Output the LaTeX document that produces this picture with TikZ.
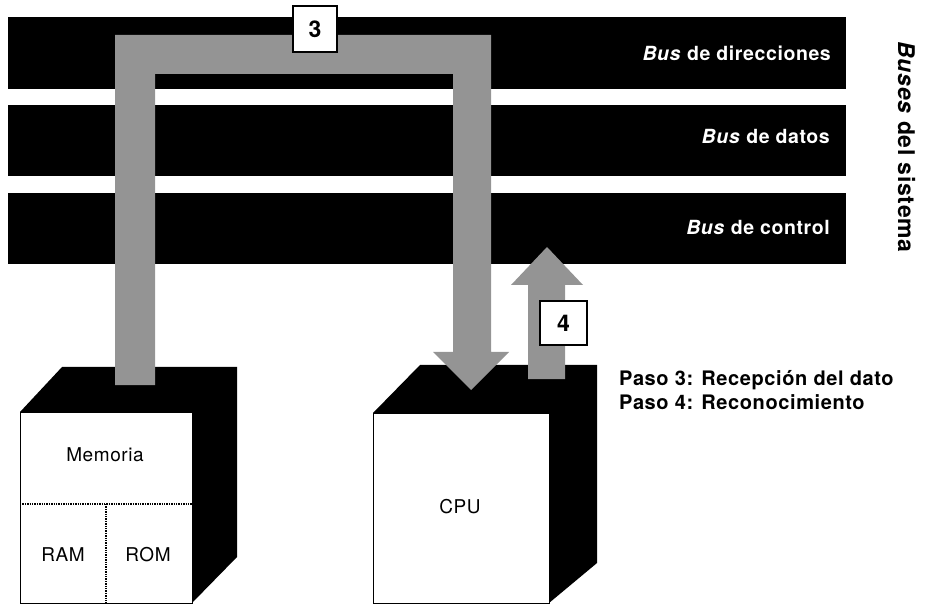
\documentclass[tikz,border=0pt]{standalone}
\usepackage{fontspec}
\setmainfont[LetterSpace=3]{TeX Gyre Heros}
\begin{document}
\begin{tikzpicture}[x=1pt,y=-1pt,
  busbar/.style={fill=black},
  halftone/.style={fill=black!42},
  cubeface/.style={draw=black, line width=1pt, fill=white, inner sep=0pt},
  stepnum/.style={draw=black, line width=1.5pt, fill=white, inner sep=0pt,
    font=\fontsize{23}{23}\selectfont\bfseries},
  buslabel/.style={text=white, anchor=base east, inner sep=0pt,
    font=\fontsize{19.5}{19.5}\selectfont\bfseries},
  boxlabel/.style={font=\fontsize{19}{19}\selectfont},
  legend/.style={anchor=base west, inner sep=0pt, font=\fontsize{20}{20}\selectfont\bfseries},
  divider/.style={densely dotted, line width=1.4pt}]
\useasboundingbox (0,0) rectangle (930,604);

% system buses
\fill[busbar] (8,17) rectangle (846,89);
\fill[busbar] (8,105) rectangle (846,176);
\fill[busbar] (8,193) rectangle (846,264);
\node[buslabel] (ldir) at (831,61) {\textit{Bus} de direcciones};
\node[buslabel] (ldat) at (830,144) {\textit{Bus} de datos};
\node[buslabel] (lctl) at (830,235) {\textit{Bus} de control};

% title
\node[rotate=-90, anchor=base, inner sep=0pt, font=\fontsize{23}{23}\selectfont\bfseries] (title) at (898,147) {\textit{Buses} del sistema};

% memory cube
\fill[black] (20,412) -- (62,367) -- (237,367) -- (237,557) -- (192,603) -- (192,412) -- cycle;
\node[cubeface, minimum width=172pt, minimum height=191pt] (mem) at (106,507.5) {};
\draw[divider] (20,504) -- (192,504);
\draw[divider] (106,504) -- (106,603);
\node[boxlabel] (memtxt) at (105,455) {Memoria};
\node[boxlabel] (ram) at (63,555) {RAM};
\node[boxlabel] (rom) at (148,555) {ROM};

% CPU cube
\fill[black] (373,413) -- (420,365) -- (597,365) -- (597,563) -- (549,603) -- (549,413) -- cycle;
\node[cubeface, minimum width=176pt, minimum height=190pt] (cpu) at (461,508) {};
\node[boxlabel] (cputxt) at (460,507) {CPU};

% step 3: address bus path from memory to CPU
\fill[halftone] (115,385) -- (115,35) -- (491,35) -- (491,352) -- (509,352) -- (471,390)
  -- (433,352) -- (453,352) -- (453,74) -- (155,74) -- (155,385) -- cycle;
% step 4: acknowledgement arrow from CPU to control bus
\fill[halftone] (528,379) -- (528,285) -- (511,285) -- (547,247) -- (583,285) -- (565,285)
  -- (565,379) -- cycle;

% step numbers
\node[stepnum, minimum width=44pt, minimum height=46pt] (s3) at (315,29) {3};
\node[stepnum, minimum width=47pt, minimum height=44pt] (s4) at (563.5,323) {4};

% legend
\node[legend] (p3) at (619,385) {Paso 3: Recepción del dato};
\node[legend] (p4) at (619,409) {Paso 4: Reconocimiento};
\end{tikzpicture}
\end{document}
